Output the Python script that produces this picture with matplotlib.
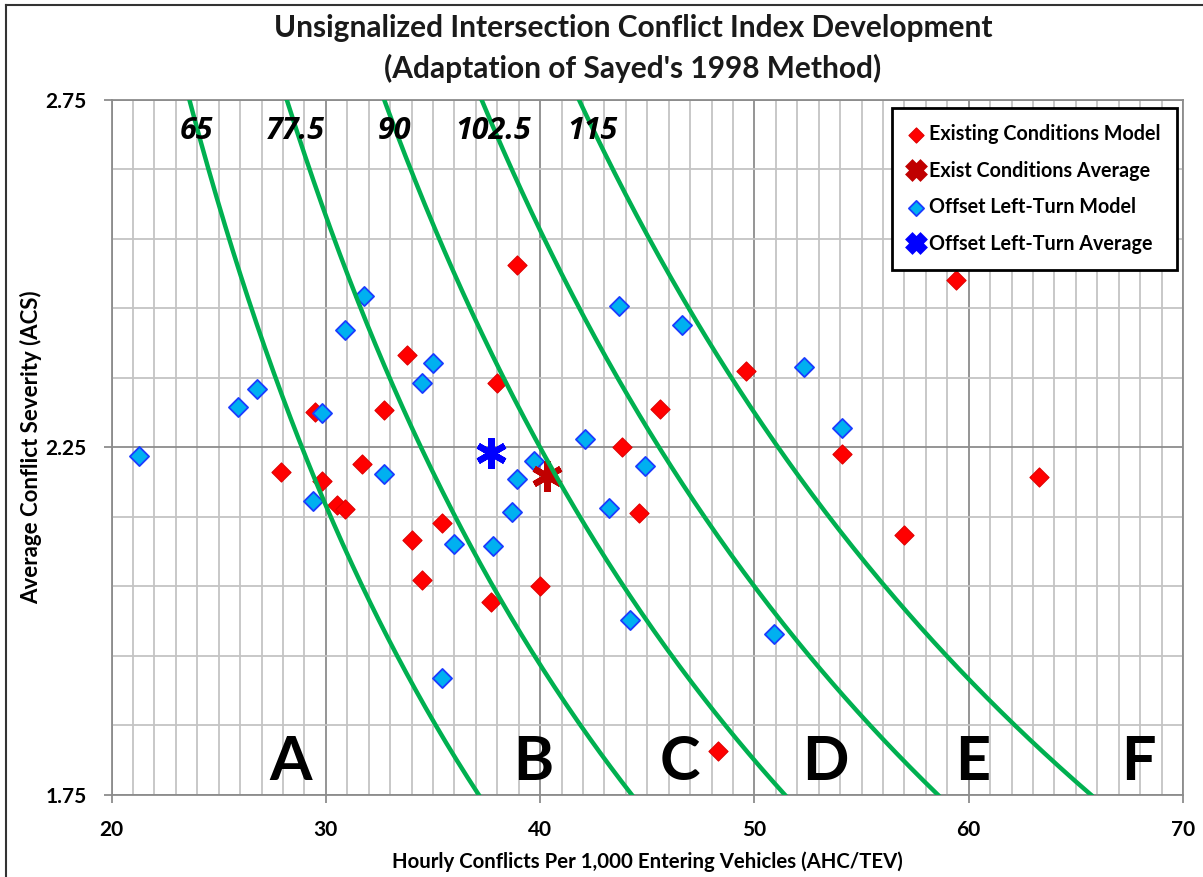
import numpy as np
import matplotlib
matplotlib.use("Agg")
import matplotlib.pyplot as plt
from matplotlib.lines import Line2D
from matplotlib.ticker import FixedLocator

plt.rcParams['font.family'] = ['Lato', 'DejaVu Sans']

# Existing conditions model (AHC/TEV, ACS)
exist_x = [38.9, 59.4, 49.6, 33.8, 38.0, 32.7, 29.5, 45.6, 43.8, 54.1, 27.9, 31.7,
           29.8, 63.3, 30.5, 30.9, 35.4, 44.6, 34.0, 57.0, 34.5, 37.7, 40.0, 48.3]
exist_y = [2.513, 2.491, 2.360, 2.383, 2.343, 2.304, 2.301, 2.305, 2.251, 2.241, 2.215, 2.226,
           2.202, 2.208, 2.167, 2.162, 2.141, 2.156, 2.117, 2.124, 2.059, 2.028, 2.051, 1.813]
exist_avg = (40.3, 2.209)

# Offset left-turn model
offset_x = [21.3, 25.9, 26.8, 31.8, 30.9, 29.8, 29.4, 32.7, 35.0, 34.5, 36.0, 37.8, 38.7,
            38.9, 39.7, 42.1, 43.7, 46.6, 43.2, 44.9, 44.2, 52.3, 54.1, 50.9, 35.4]
offset_y = [2.238, 2.308, 2.334, 2.468, 2.419, 2.300, 2.173, 2.212, 2.372, 2.343, 2.111, 2.108, 2.157,
            2.205, 2.231, 2.262, 2.454, 2.426, 2.163, 2.223, 2.002, 2.366, 2.278, 1.982, 1.918]
offset_avg = (37.7, 2.242)

# conflict index contours (CI = AHC/TEV * ACS)
ci_levels = [65, 77.5, 90, 102.5, 115]
ci_labels = ['65', '77.5', '90', '102.5', '115']

zones = ['A', 'B', 'C', 'D', 'E', 'F']
zone_x = [28.35, 39.7, 46.5, 53.3, 60.2, 67.9]

fig = plt.figure(figsize=(12.03, 8.77), dpi=100)
ax = fig.add_axes([0.0927, 0.0935, 0.8907, 0.7925])

ax.set_xlim(20, 70)
ax.set_ylim(1.75, 2.75)

ax.xaxis.set_major_locator(FixedLocator([20, 30, 40, 50, 60, 70]))
ax.xaxis.set_minor_locator(FixedLocator(np.arange(20, 71, 1)))
ax.yaxis.set_major_locator(FixedLocator([1.75, 2.25, 2.75]))
ax.yaxis.set_minor_locator(FixedLocator(np.arange(1.75, 2.76, 0.1)))
ax.grid(which='minor', color='#c4c4c4', lw=1.3, zorder=0)
ax.grid(which='major', color='#8c8c8c', lw=1.3, zorder=0)
ax.set_axisbelow(True)
for s in ax.spines.values():
    s.set_color('#8c8c8c')
    s.set_linewidth(1.3)
ax.tick_params(which='major', length=6, width=1.3, color='#8c8c8c', labelsize=15)
ax.tick_params(axis='y', which='major', pad=12)
ax.tick_params(axis='x', which='major', pad=12)
ax.tick_params(which='minor', length=0)
ax.set_yticklabels(['1.75', '2.25', '2.75'], fontweight='bold')
ax.set_xticklabels(['20', '30', '40', '50', '60', '70'], fontweight='bold')

ax.scatter(exist_x, exist_y, marker='D', s=95, color='#ff0000', edgecolor='#e00000',
           lw=0.8, zorder=3, label='Existing Conditions Model')
ax.plot(*exist_avg, ls='none', marker=(6, 2, 0), ms=22, mew=4.5, color='#c00000', zorder=4,
        label='Exist Conditions Average')
ax.scatter(offset_x, offset_y, marker='D', s=95, color='#00b0f0', edgecolor='#1a3cff',
           lw=1.3, zorder=3, label='Offset Left-Turn Model')
ax.plot(*offset_avg, ls='none', marker=(6, 2, 0), ms=22, mew=4.5, color='#0000ff', zorder=4,
        label='Offset Left-Turn Average')

yy = np.linspace(1.75, 2.75, 200)
for ci, lab in zip(ci_levels, ci_labels):
    ax.plot(ci / yy, yy, color='#00b050', lw=3.2, zorder=5)
    ax.text(ci / 2.71, 2.706, lab, fontsize=22, fontweight='bold', style='italic',
            family=['Open Sans', 'DejaVu Sans'], ha='center', va='center', zorder=6)

for z, zx in zip(zones, zone_x):
    ax.text(zx, 1.797, z, fontsize=44, fontweight='bold', ha='center', va='center', zorder=6)

ax.set_xlabel('Hourly Conflicts Per 1,000 Entering Vehicles (AHC/TEV)', fontsize=14.7,
              fontweight='bold', labelpad=8)
ax.set_ylabel('Average Conflict Severity (ACS)', fontsize=16, fontweight='bold', labelpad=2)

fig.text(0.526, 0.968, 'Unsignalized Intersection Conflict Index Development',
         fontsize=21.5, fontweight='bold', ha='center', va='center', color='#1a1a1a')
fig.text(0.526, 0.922, "(Adaptation of Sayed's 1998 Method)",
         fontsize=21.5, fontweight='bold', ha='center', va='center', color='#1a1a1a')

leg = ax.legend(loc='upper right', bbox_to_anchor=(0.994, 0.9885), borderaxespad=0,
                fancybox=False, framealpha=1, edgecolor='black',
                labelspacing=0.85, handlelength=0.8, handletextpad=0.3,
                borderpad=0.8, prop={'weight': 'bold', 'size': 14.2})
leg.get_frame().set_linewidth(2)
for h in leg.legend_handles:
    if isinstance(h, Line2D):
        h.set_markersize(12)
        h.set_markeredgewidth(3.5)
        h.set_marker('X')
    else:
        h.set_sizes([60])

fig.add_artist(Line2D([6 / 1203, 6 / 1203], [0, 1 - 5 / 877], color='#333333', lw=1.5))
fig.add_artist(Line2D([6 / 1203, 1], [1 - 5 / 877, 1 - 5 / 877], color='#333333', lw=1.5))

fig.savefig('out.png', dpi=100)
